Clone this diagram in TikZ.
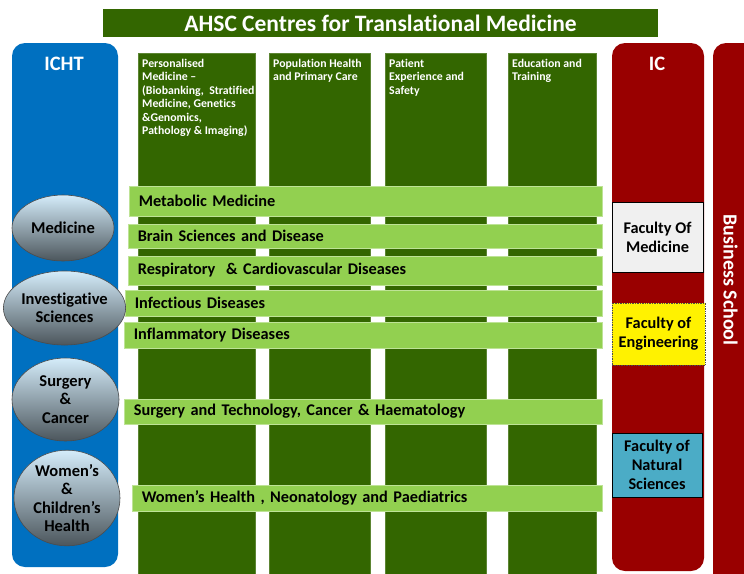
\documentclass[tikz,border=0pt]{standalone}
\usepackage{fontspec}
\setmainfont{Carlito}[Ligatures={NoCommon}]
\usepackage{tikz}
\usetikzlibrary{positioning, shapes.geometric}
\definecolor{ahscgreen}{HTML}{336600}
\definecolor{themegreen}{HTML}{92D050}
\definecolor{ichtblue}{HTML}{0070C0}
\definecolor{icred}{HTML}{990000}
\definecolor{fomgrey}{HTML}{F0F0F0}
\definecolor{fnsblue}{HTML}{4BACC6}
\definecolor{divtop}{HTML}{D4ECFA}
\definecolor{divmid}{HTML}{9AAAB6}
\definecolor{divbot}{HTML}{4C565C}
\tikzset{
  centrecol/.style={rectangle, fill=ahscgreen, draw=ahscgreen!80!white, line width=0.6pt,
                    anchor=north west, inner sep=0pt},
  colhead/.style={anchor=north west, align=left, text=white, inner sep=0pt,
                  font=\fontsize{11.8}{13.4}\selectfont\bfseries},
  theme/.style={rectangle, fill=themegreen, draw=themegreen!60!white, line width=0.6pt,
                anchor=west, align=left, inner xsep=9.5pt, inner ysep=0pt,
                font=\fontsize{16.3}{19}\selectfont\bfseries},
  division/.style={ellipse, draw=black!70, line width=0.6pt, inner sep=0pt,
                   top color=divtop, middle color=divmid, bottom color=divbot,
                   align=center, font=\fontsize{16.5}{18.5}\selectfont\bfseries},
  faculty/.style={rectangle, draw=black, line width=0.7pt, align=center,
                  font=\fontsize{16.3}{19}\selectfont\bfseries},
  orghead/.style={text=white, font=\fontsize{20.5}{24}\selectfont\bfseries}
}

\begin{document}
\begin{tikzpicture}[x=1pt, y=-1pt]
  \clip (0,0) rectangle (744,573);
  \fill[white] (0,0) rectangle (744,573);

  % banner
  \node[fill=ahscgreen, minimum width=555pt, minimum height=28pt, text=white,
        font=\fontsize{23.5}{26}\selectfont\bfseries] (banner) at (380.5,23)
        {AHSC Centres for Translational Medicine};

  % trust and college
  \fill[ichtblue, rounded corners=13pt] (12,43) rectangle (118,567);
  \node[orghead] (icht) at (64,64) {ICHT};
  \fill[icred, rounded corners=13pt] (612,43) rectangle (704,571);
  \node[orghead] (ic) at (657,64) {IC};
  \fill[icred, rounded corners=13pt] (713,43) rectangle (770,600);
  \node[orghead, rotate=-90, font=\fontsize{20}{24}\selectfont\bfseries] (biz) at (730.5,280) {Business School};

  % centre columns
  \foreach \l/\r [count=\i] in {138/255, 269/370, 385/486, 508/596}
    \node[centrecol, minimum width=\r pt-\l pt, minimum height=525pt] (col\i) at (\l,53) {};
  \node[colhead] (head1) at ([xshift=4pt, yshift=-6pt]col1.north west)
    {Personalised\\Medicine --\\(Biobanking,\ \ Stratified\\Medicine, Genetics\\\&Genomics,\\Pathology \& Imaging)};
  \node[colhead] (head2) at ([xshift=4pt, yshift=-6pt]col2.north west) {Population Health\\and Primary Care};
  \node[colhead] (head3) at ([xshift=4pt, yshift=-6pt]col3.north west) {Patient\\Experience and\\Safety};
  \node[colhead] (head4) at ([xshift=4pt, yshift=-6pt]col4.north west) {Education and\\Training};

  % themes across the centres
  \foreach \l/\t/\b/\txt [count=\i] in {
      129/186/216/{Metabolic Medicine},
      128/224/248/{Brain Sciences and Disease},
      128/256/285/{Respiratory \ \& Cardiovascular Diseases},
      125/290/316/{Infectious Diseases},
      124/322/348/{Inflammatory Diseases},
      124/399/424/{Surgery and Technology, Cancer \& Haematology},
      132/485/511/{Women’s Health , Neonatology and Paediatrics}}
    \node[theme, minimum height=\b pt-\t pt, text width=602pt-\l pt-19pt] (theme\i) at (\l,{(\t+\b)/2}) {\txt};

  % divisions
  \node[division, minimum width=102pt, minimum height=66pt] (divmed) at (63,228) {Medicine};
  \node[division, minimum width=103pt, minimum height=74pt] (divinv) at (64.5,308) {Investigative\\Sciences};
  \node[division, minimum width=107pt, minimum height=83pt] (divsurg) at (65.5,399.5) {Surgery\\\&\\Cancer};
  \node[division, minimum width=106pt, minimum height=92pt] (divwch) at (67,498) {Women’s\\\&\\Children’s\\Health};

  % faculties
  \node[faculty, fill=fomgrey, minimum width=91pt, minimum height=70pt] (fom) at (657.5,237) {Faculty Of\\Medicine};
  \node[faculty, fill=yellow, draw=black!70, densely dotted, minimum width=93pt, minimum height=62pt] (foe) at (658.5,334) {Faculty of\\Engineering};
  \node[faculty, fill=fnsblue, minimum width=90pt, minimum height=64pt] (fns) at (657,465) {Faculty of\\Natural\\Sciences};
\end{tikzpicture}
\end{document}
